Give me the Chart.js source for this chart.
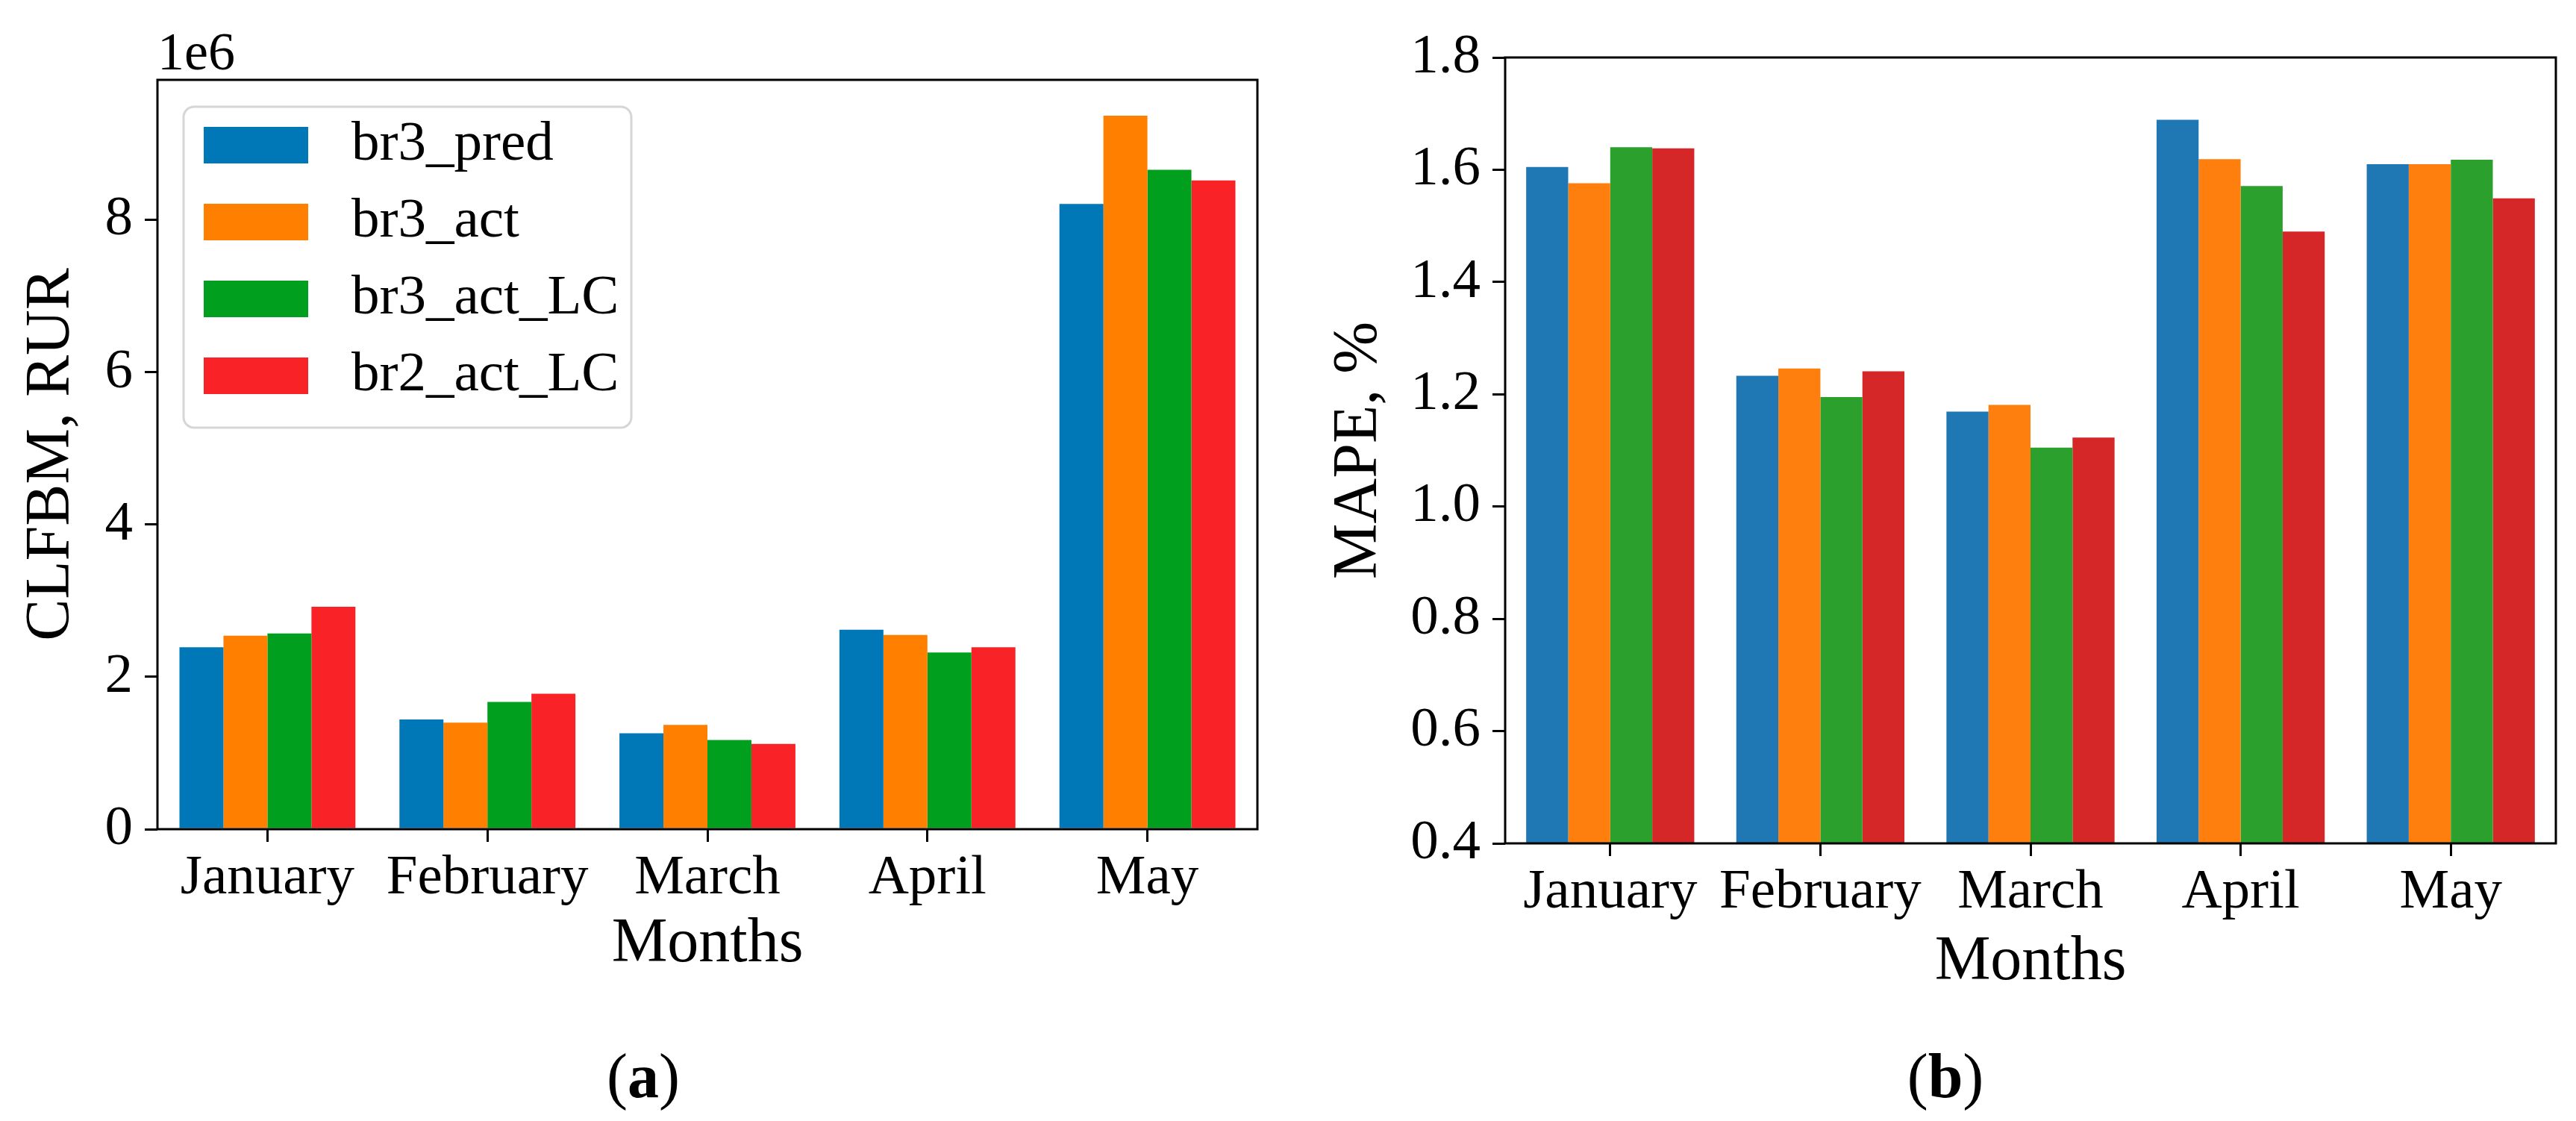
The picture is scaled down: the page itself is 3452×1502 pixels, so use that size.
<!DOCTYPE html>
<html>
<head>
<meta charset="utf-8">
<script src="https://cdn.jsdelivr.net/npm/chart.js@4.4.1/dist/chart.umd.min.js"></script>
<style>
  html, body { margin: 0; padding: 0; background: #fff; }
  body { width: 3452px; height: 1502px; position: relative; overflow: hidden; font-family: 'Liberation Serif', serif; }
  .panel { position: absolute; top: 0; }
  .caption { position: absolute; top: 1442px; font-size: 84px; line-height: 1; transform: translate(-50%, -50%); color: #000; }
</style>
</head>
<body>
<div class="panel" style="left:0;width:1726px;height:1316px"><canvas id="chartA"></canvas></div>
<div class="panel" style="left:1726px;width:1726px;height:1340px"><canvas id="chartB"></canvas></div>
<div class="caption" style="left:862px">(<b>a</b>)</div>
<div class="caption" style="left:2607px">(<b>b</b>)</div>
<script>
const months = ['January', 'February', 'March', 'April', 'May'];
const seriesNames = ['br3_pred', 'br3_act', 'br3_act_LC', 'br2_act_LC'];

// (a) CLFBM, RUR
const clfbmPred = [2390000, 1440000, 1260000, 2620000, 8210000];
const clfbmAct = [2540000, 1400000, 1370000, 2550000, 9370000];
const clfbmActLC = [2570000, 1670000, 1170000, 2320000, 8660000];
const clfbmBr2ActLC = [2920000, 1780000, 1120000, 2390000, 8520000];
const clfbmTicks = [0, 2000000, 4000000, 6000000, 8000000];

// (b) MAPE, %
const mapePred = [1.605, 1.233, 1.169, 1.689, 1.610];
const mapeAct = [1.576, 1.246, 1.181, 1.619, 1.610];
const mapeActLC = [1.640, 1.195, 1.105, 1.571, 1.618];
const mapeBr2ActLC = [1.638, 1.241, 1.123, 1.490, 1.549];
const mapeTicks = [0.4, 0.6, 0.8, 1.0, 1.2, 1.4, 1.6, 1.8];

const colorsA = ['#0077b7', '#ff8000', '#00a01e', '#f92226'];
const colorsB = ['#1f77b4', '#ff7f0e', '#2ca02c', '#d62728'];

Chart.defaults.font.family = "'Liberation Serif', serif";
Chart.defaults.color = '#000';

function toPoints(values) {
  return values.map((v, i) => ({ x: i, y: v }));
}

function makeDatasets(seriesList, colors) {
  return seriesList.map((values, i) => ({
    label: seriesNames[i],
    data: toPoints(values),
    backgroundColor: colors[i],
    borderWidth: 0,
    categoryPercentage: 0.8,
    barPercentage: 1.0,
  }));
}

// matplotlib-like box around the axes
const frame = {
  id: 'frame',
  afterDraw(chart) {
    const { ctx, chartArea: { left, top, right, bottom } } = chart;
    ctx.save();
    ctx.strokeStyle = '#000';
    ctx.lineWidth = 3;
    ctx.strokeRect(left, top, right - left, bottom - top);
    ctx.restore();
  },
};

const offsetText = {
  id: 'offsetText',
  afterDraw(chart) {
    const { ctx, chartArea: { left, top } } = chart;
    ctx.save();
    ctx.font = "72px 'Liberation Serif'";
    ctx.fillStyle = '#000';
    ctx.textBaseline = 'alphabetic';
    ctx.fillText('1e6', left, top - 14);
    ctx.restore();
  },
};

const boxLegend = {
  id: 'boxLegend',
  afterDatasetsDraw(chart) {
    const { ctx, chartArea: { left, top } } = chart;
    ctx.save();
    ctx.beginPath();
    ctx.roundRect(left + 35, top + 36, 600, 430, 14);
    ctx.fillStyle = 'rgba(255,255,255,0.8)';
    ctx.fill();
    ctx.lineWidth = 3;
    ctx.strokeStyle = '#d6d6d6';
    ctx.stroke();
    ctx.font = "75px 'Liberation Serif'";
    ctx.textBaseline = 'middle';
    chart.data.datasets.forEach((ds, i) => {
      const y = top + 87 + i * 103;
      ctx.fillStyle = ds.backgroundColor;
      ctx.fillRect(left + 62, y - 24, 140, 49);
      ctx.fillStyle = '#000';
      ctx.fillText(ds.label, left + 260, y);
    });
    ctx.restore();
  },
};

function xScale(height) {
  return {
    type: 'linear',
    min: -0.5,
    max: 4.5,
    offset: false,
    afterBuildTicks: (axis) => { axis.ticks = months.map((m, i) => ({ value: i })); },
    afterFit: (axis) => { axis.height = height; },
    ticks: { callback: (value) => months[value], font: { size: 75 }, padding: 4, maxRotation: 0, autoSkip: false },
    grid: { offset: false, drawOnChartArea: false, drawTicks: true, tickLength: 17, color: '#000', lineWidth: 3 },
    border: { display: false },
    title: { display: true, text: 'Months', font: { size: 84 }, padding: 0 },
  };
}

const configA = {
  type: 'bar',
  data: { datasets: makeDatasets([clfbmPred, clfbmAct, clfbmActLC, clfbmBr2ActLC], colorsA) },
  options: {
    responsive: true,
    maintainAspectRatio: false,
    devicePixelRatio: 1,
    animation: false,
    layout: { padding: { left: 20, top: 107, right: 41, bottom: 0 } },
    plugins: { legend: { display: false }, tooltip: { enabled: false } },
    scales: {
      x: xScale(205),
      y: {
        min: 0,
        max: 9840000,
        afterBuildTicks: (axis) => { axis.ticks = clfbmTicks.map((v) => ({ value: v })); },
        afterFit: (axis) => { axis.width = 191; },
        ticks: { callback: (value) => String(value / 1000000), font: { size: 75 }, padding: 16 },
        grid: { drawOnChartArea: false, drawTicks: true, tickLength: 17, color: '#000', lineWidth: 3 },
        border: { display: false },
        title: { display: true, text: 'CLFBM, RUR', font: { size: 84 }, padding: 0 },
      },
    },
  },
  plugins: [boxLegend, frame, offsetText],
};

const configB = {
  type: 'bar',
  data: { datasets: makeDatasets([mapePred, mapeAct, mapeActLC, mapeBr2ActLC], colorsB) },
  options: {
    responsive: true,
    maintainAspectRatio: false,
    devicePixelRatio: 1,
    animation: false,
    layout: { padding: { left: 46, top: 77, right: 27, bottom: 0 } },
    plugins: { legend: { display: false }, tooltip: { enabled: false } },
    scales: {
      x: xScale(210),
      y: {
        min: 0.4,
        max: 1.8,
        afterBuildTicks: (axis) => { axis.ticks = mapeTicks.map((v) => ({ value: v })); },
        afterFit: (axis) => { axis.width = 245; },
        ticks: { callback: (value) => value.toFixed(1), font: { size: 75 }, padding: 16 },
        grid: { drawOnChartArea: false, drawTicks: true, tickLength: 17, color: '#000', lineWidth: 3 },
        border: { display: false },
        title: { display: true, text: 'MAPE, %', font: { size: 84 }, padding: 0 },
      },
    },
  },
  plugins: [frame],
};

const chartA = new Chart(document.getElementById('chartA'), configA);
const chartB = new Chart(document.getElementById('chartB'), configB);
</script>
</body>
</html>
